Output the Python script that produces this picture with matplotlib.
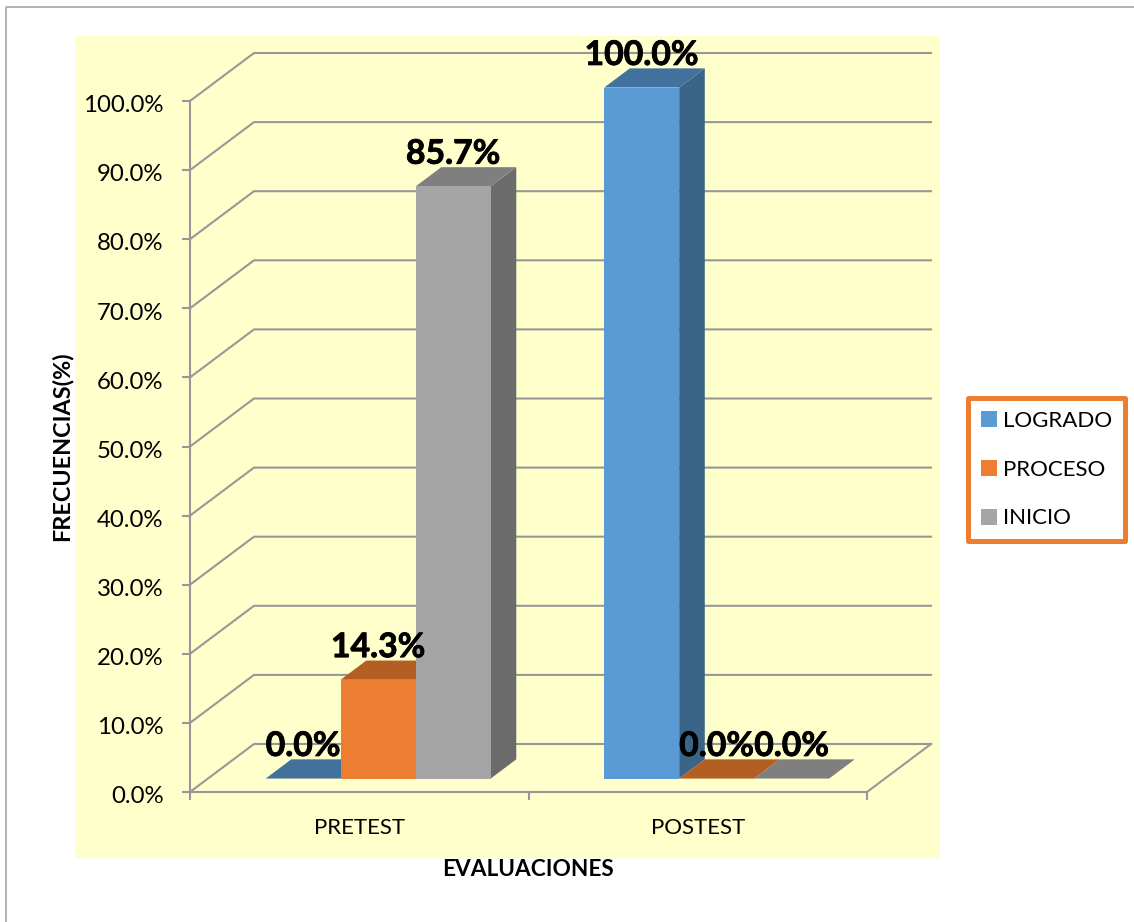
import matplotlib
matplotlib.use("Agg")
import matplotlib.pyplot as plt
import matplotlib.patheffects as pe
from matplotlib.lines import Line2D
from matplotlib.patches import Patch, Polygon, Rectangle
from matplotlib.transforms import ScaledTranslation
import numpy as np

plt.rcParams['font.family'] = ['Lato', 'DejaVu Sans']

W, H = 1134, 922

evaluaciones = ["PRETEST", "POSTEST"]
series = ["LOGRADO", "PROCESO", "INICIO"]
logrado = [0.0, 100.0]
proceso = [14.3, 0.0]
inicio = [85.7, 0.0]
yticks = [0, 10, 20, 30, 40, 50, 60, 70, 80, 90, 100]

front_col = ["#5B9BD5", "#ED7D31", "#A5A5A5"]
top_col = ["#41719C", "#B35E22", "#7F7F7F"]
side_col = ["#3A6488", "#B35E22", "#6B6B6B"]
grid_col = "#979797"

fig = plt.figure(figsize=(W/100, H/100), dpi=100)

# yellow panel and the page border behind it, in pixels
fig.patches.append(Rectangle((75/W, 1-858/H), 865/W, 822/H, transform=fig.transFigure,
                             fc="#FFFFCC", ec="none", zorder=-5))
fig.add_artist(Line2D([5.5/W, 5.5/W, 1], [0, 1-7.5/H, 1-7.5/H], color="#A6A6A6", lw=1.2))

ax = fig.add_axes([190/W, 1-792/H, 677/W, 691/H])
ax.patch.set_visible(False)
ax.set_xlim(0, 2)
ax.set_ylim(0, 100)

# depth of the fake 3d box, in data units
depth_x = 64/338.5
depth_y = 48/6.91


def proj(x, y, d):
    return x + d*depth_x, y + d*depth_y


# back wall lines
for v in yticks:
    p0 = proj(0, v, 0)
    p1 = proj(0, v, 1)
    p2 = proj(2, v, 1)
    ax.plot([p0[0], p1[0], p2[0]], [p0[1], p1[1], p2[1]], color=grid_col, lw=1.5,
            clip_on=False, zorder=1)
p3 = proj(2, 0, 1)
ax.plot([2, p3[0]], [0, p3[1]], color=grid_col, lw=1.5, clip_on=False, zorder=1)

# bars
bar_w = 75/338.5
d0, d1 = 0.28, 0.68
values = [logrado, proceso, inicio]
centers = [0.5, 1.5]
z = 2
for c in centers:
    cat = centers.index(c)
    for i in range(3):
        v = values[i][cat]
        left = c + (i-1.5)*bar_w + 0.003
        right = left + bar_w
        a = proj(left, 0, d0)
        b = proj(right, 0, d0)
        e = proj(right, v, d0)
        f = proj(left, v, d0)
        g = proj(left, v, d1)
        h = proj(right, v, d1)
        k = proj(right, 0, d1)
        ax.add_patch(Polygon([b, k, h, e], fc=side_col[i], ec="none", clip_on=False, zorder=z))
        ax.add_patch(Polygon([f, e, h, g], fc=top_col[i], ec="none", clip_on=False, zorder=z))
        ax.add_patch(Polygon([a, b, e, f], fc=front_col[i], ec="none", clip_on=False, zorder=z))
        z += 1

# data labels
for c in centers:
    cat = centers.index(c)
    for i in range(3):
        v = values[i][cat]
        x = c + (i-1)*bar_w + 0.003
        px = proj(x, v, d0)
        ax.annotate(f"{v:.1f}%", px, xytext=(0, 23.5), textcoords="offset points",
                    ha="center", va="center", fontsize=24.3, fontweight="bold",
                    color="black", zorder=20, annotation_clip=False,
                    path_effects=[pe.withStroke(linewidth=0.6, foreground="black")])

for s in ["top", "right"]:
    ax.spines[s].set_visible(False)
for s in ["left", "bottom"]:
    ax.spines[s].set_color(grid_col)
    ax.spines[s].set_linewidth(1.5)

ax.set_yticks(yticks)
ax.set_yticklabels([f"{v:.1f}%" for v in yticks])
ax.tick_params(axis="y", length=6, width=1.5, color=grid_col, labelsize=17.3, pad=13,
               labelcolor="black")
shift = ScaledTranslation(0, -2/72, fig.dpi_scale_trans)
for lab in ax.get_yticklabels():
    lab.set_transform(lab.get_transform() + shift)
ax.set_xticks([0, 1, 2])
ax.set_xticklabels([])
ax.set_xticks(centers, minor=True)
ax.set_xticklabels(evaluaciones, minor=True)
ax.tick_params(axis="x", which="major", length=6, width=1.5, color=grid_col)
ax.tick_params(axis="x", which="minor", length=0, labelsize=16, pad=19, labelcolor="black")

ax.set_xlabel("EVALUACIONES", fontsize=16.3, fontweight="bold", va="center")
ax.xaxis.set_label_coords((528-190)/677, (792-869)/691)
ax.set_ylabel("FRECUENCIAS(%)", fontsize=16.8, fontweight="bold", va="center")
ax.yaxis.set_label_coords((62-190)/677, (792-446)/691)

handles = [Patch(fc=front_col[i], ec="none", label=series[i]) for i in range(3)]
leg = fig.legend(handles=handles, loc="center", bbox_to_anchor=(1046.5/W, 1-469.5/H),
                 fontsize=16, frameon=True, fancybox=False, framealpha=1, edgecolor="#ED7D31",
                 handlelength=0.72, handleheight=0.72, handletextpad=0.3, labelspacing=1.3,
                 borderpad=0.58, borderaxespad=0)
leg.get_frame().set_linewidth(3.6)
leg.get_frame().set_joinstyle("round")

fig.savefig("out.png", dpi=100)
